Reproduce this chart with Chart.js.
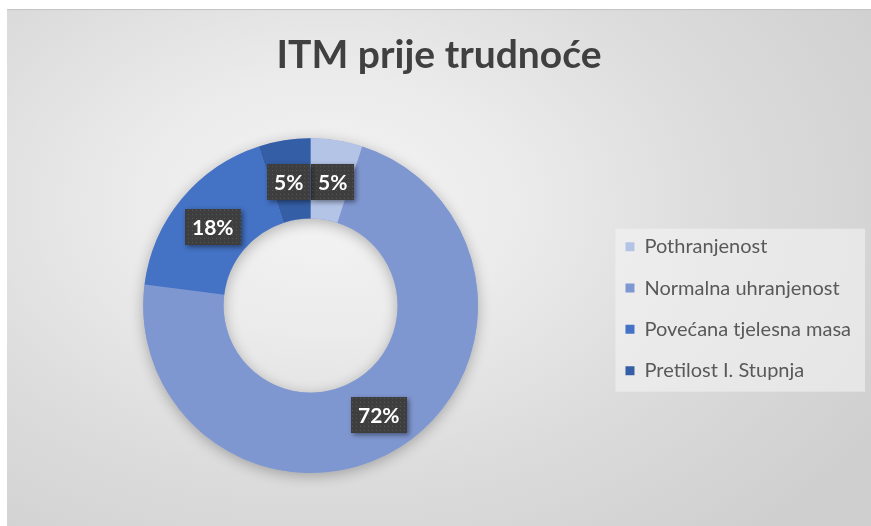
<!DOCTYPE html>
<html>
<head>
<meta charset="utf-8">
<script src="https://cdn.jsdelivr.net/npm/chart.js@4.4.0/dist/chart.umd.min.js"></script>
<style>
  html, body { margin: 0; padding: 0; background: #ffffff; width: 871px; height: 526px; overflow: hidden; }
  #wrap {
    position: absolute; left: 7px; top: 9px; width: 864px; height: 517px;
    background: radial-gradient(ellipse 75% 85% at 37% 38%, #f4f4f4 0%, #ebebeb 30%, #dcdcdc 62%, #cfcfcf 100%);
    box-shadow: inset 0 2px 1px -1px #c2c2c2;
  }
  canvas { display: block; }
</style>
</head>
<body>
<div id="wrap"><canvas id="c" width="864" height="517"></canvas></div>
<script>
const titleText = 'ITM prije trudnoće';
const categories = ['Pothranjenost', 'Normalna uhranjenost', 'Povećana tjelesna masa', 'Pretilost I. Stupnja'];
const shares = [5, 72, 18, 5];
const sliceColors = ['#b4c4e7', '#7f97d1', '#4472c4', '#345ea6'];
const labelSuffix = '%';

function makePattern(ctx) {
  const p = document.createElement('canvas');
  p.width = 4; p.height = 4;
  const pc = p.getContext('2d');
  pc.fillStyle = '#3e3e3e';
  pc.fillRect(0, 0, 4, 4);
  pc.fillStyle = '#565656';
  pc.fillRect(1, 1, 1, 1);
  return ctx.createPattern(p, 'repeat');
}

const ringShadow = {
  id: 'ringShadow',
  beforeDatasetsDraw(chart) {
    const meta = chart.getDatasetMeta(0);
    const a = meta.data[0];
    if (!a) return;
    const ctx = chart.ctx;
    ctx.save();
    ctx.shadowColor = 'rgba(0,0,0,0.28)';
    ctx.shadowBlur = 14;
    ctx.shadowOffsetY = 3;
    ctx.fillStyle = '#8fa3d8';
    ctx.beginPath();
    ctx.arc(a.x, a.y, a.outerRadius, 0, Math.PI * 2);
    ctx.arc(a.x, a.y, a.innerRadius, 0, Math.PI * 2, true);
    ctx.fill();
    ctx.restore();
  }
};

const legendBg = {
  id: 'legendBg',
  beforeDraw(chart) {
    const lg = chart.legend;
    if (!lg || !lg.legendHitBoxes || !lg.legendHitBoxes.length) return;
    const hb = lg.legendHitBoxes;
    let l = Infinity, r = -Infinity, t = Infinity, b = -Infinity;
    hb.forEach(h => {
      l = Math.min(l, h.left); r = Math.max(r, h.left + h.width);
      t = Math.min(t, h.top); b = Math.max(b, h.top + h.height);
    });
    const ctx = chart.ctx;
    ctx.save();
    ctx.fillStyle = 'rgba(243,243,243,0.6)';
    ctx.fillRect(l - 10, t - 8, (r - l) + 24, (b - t) + 19);
    ctx.restore();
  }
};

const boxLabels = {
  id: 'boxLabels',
  afterDatasetsDraw(chart) {
    const ctx = chart.ctx;
    const meta = chart.getDatasetMeta(0);
    const data = chart.data.datasets[0].data;
    ctx.save();
    ctx.font = 'bold 21px Lato';
    const boxes = meta.data.map((arc, i) => {
      const pos = arc.tooltipPosition();
      const txt = data[i] + labelSuffix;
      const w = ctx.measureText(txt).width + 14;
      const h = 36;
      return { txt, cx: pos.x, cy: pos.y + 2, w, h };
    });
    for (let k = 0; k < 5; k++) {
      for (let i = 0; i < boxes.length; i++) {
        for (let j = i + 1; j < boxes.length; j++) {
          const A = boxes[i], B = boxes[j];
          const ox = (A.w + B.w) / 2 - Math.abs(A.cx - B.cx);
          const oy = (A.h + B.h) / 2 - Math.abs(A.cy - B.cy);
          if (ox > 0 && oy > 0) {
            const dir = A.cx < B.cx ? -1 : 1;
            A.cx += dir * ox / 2;
            B.cx -= dir * ox / 2;
          }
        }
      }
    }
    const pat = makePattern(ctx);
    boxes.forEach(bx => {
      const x = Math.round(bx.cx - bx.w / 2), y = Math.round(bx.cy - bx.h / 2);
      ctx.save();
      ctx.shadowColor = 'rgba(0,0,0,0.45)';
      ctx.shadowBlur = 5;
      ctx.shadowOffsetX = 2;
      ctx.shadowOffsetY = 2;
      ctx.fillStyle = '#3e3e3e';
      ctx.fillRect(x, y, Math.round(bx.w), bx.h);
      ctx.restore();
      ctx.fillStyle = pat;
      ctx.fillRect(x, y, Math.round(bx.w), bx.h);
      ctx.fillStyle = '#ffffff';
      ctx.textAlign = 'center';
      ctx.textBaseline = 'middle';
      ctx.fillText(bx.txt, x + bx.w / 2, y + bx.h / 2 + 1);
    });
    ctx.restore();
  }
};

new Chart(document.getElementById('c'), {
  type: 'doughnut',
  data: {
    labels: categories,
    datasets: [{
      data: shares,
      backgroundColor: sliceColors,
      borderWidth: 0,
      hoverOffset: 0
    }]
  },
  options: {
    responsive: false,
    animation: false,
    devicePixelRatio: 1,
    cutout: '52%',
    layout: { padding: { left: 10, right: 10, top: 0, bottom: 53 } },
    plugins: {
      title: {
        display: true,
        text: titleText,
        color: '#404040',
        font: { family: 'Lato', size: 39, weight: 'bold' },
        padding: { top: 23, bottom: 59.4 }
      },
      legend: {
        position: 'right',
        fullSize: false,
        title: {
          display: true,
          text: ' ',
          font: { size: 1 },
          padding: { top: 0, bottom: 5 }
        },
        labels: {
          boxWidth: 9,
          boxHeight: 9,
          padding: 21.3,
          color: '#595959',
          font: { family: 'Lato', size: 20 }
        }
      },
      tooltip: { enabled: false }
    }
  },
  plugins: [legendBg, ringShadow, boxLabels]
});
</script>
</body>
</html>
